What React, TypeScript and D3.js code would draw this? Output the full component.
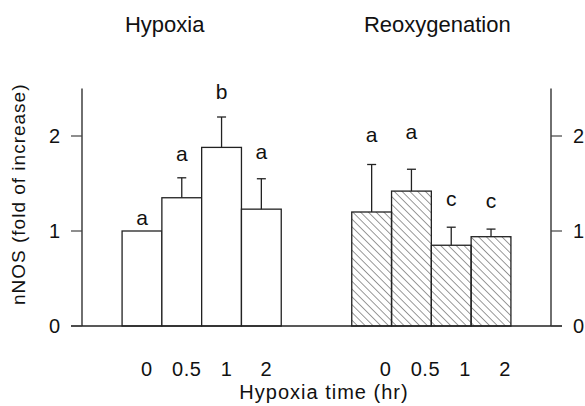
import React from "react";
import * as d3 from "d3";

// values (fold of increase)
const groups = ["Hypoxia", "Reoxygenation"];
const times = ["0", "0.5", "1", "2"];
const hypoxiaMean = [1.0, 1.35, 1.88, 1.23];
const hypoxiaErr = [0, 0.21, 0.32, 0.32];
const reoxMean = [1.2, 1.42, 0.85, 0.94];
const reoxErr = [0.5, 0.23, 0.19, 0.08];
const hypoxiaLetters = ["a", "a", "b", "a"];
const reoxLetters = ["a", "a", "c", "c"];
const hypoxiaLetterAt = [1.06, 1.74, 2.39, 1.76];
const reoxLetterAt = [1.94, 1.97, 1.26, 1.24];
const yTicks = [0, 1, 2];

const W = 585;
const H = 406;
const margin = { top: 88.5, right: 34, bottom: 80, left: 82 };
const font = "'Liberation Sans', Arial, Helvetica, sans-serif";

const series = [
  { mean: hypoxiaMean, err: hypoxiaErr, letters: hypoxiaLetters, letterAt: hypoxiaLetterAt, hatched: false, labelShift: 5, titleShift: -37 },
  { mean: reoxMean, err: reoxErr, letters: reoxLetters, letterAt: reoxLetterAt, hatched: true, labelShift: 14, titleShift: 6 },
];

export default function App() {
  const x0 = margin.left;
  const x1 = W - margin.right;
  const yBase = H - margin.bottom;

  const y = d3.scaleLinear().domain([0, 2.5]).range([yBase, margin.top]);

  const outer = d3
    .scaleBand()
    .domain(groups)
    .range([x0, x1])
    .paddingInner(0.307)
    .paddingOuter(0.1745);

  const inner = d3.scaleBand().domain(times).range([0, outer.bandwidth()]).padding(0);
  const bw = inner.bandwidth();
  const cap = 4.5;

  return (
    <svg width={W} height={H} style={{ position: "absolute", left: 0, top: 0, background: "#fff" }}>
      <defs>
        <pattern id="hatch" width={5.5} height={5.5} patternUnits="userSpaceOnUse" patternTransform="rotate(-45)">
          <line x1={0} y1={0} x2={0} y2={5.5} stroke="#333" strokeWidth={1} />
        </pattern>
      </defs>

      {/* group titles */}
      {groups.map((g, gi) => (
        <text
          key={g}
          x={outer(g)! + outer.bandwidth() / 2 + series[gi].titleShift}
          y={32}
          textAnchor="middle"
          fontFamily={font}
          fontSize={22}
          fill="#111"
        >
          {g}
        </text>
      ))}

      {/* bars */}
      {series.map((s, gi) => {
        const gx = outer(groups[gi])!;
        return (
          <g key={gi}>
            {times.map((t, i) => {
              const bx = gx + inner(t)!;
              const cx = bx + bw / 2;
              const top = y(s.mean[i]);
              const errTop = y(s.mean[i] + s.err[i]);
              return (
                <g key={t}>
                  <rect
                    x={bx}
                    y={top}
                    width={bw}
                    height={yBase - top}
                    fill={s.hatched ? "url(#hatch)" : "#fff"}
                    stroke="#222"
                    strokeWidth={1.3}
                  />
                  {s.err[i] > 0 && (
                    <g stroke="#222" strokeWidth={1.3}>
                      <line x1={cx} x2={cx} y1={top} y2={errTop} />
                      <line x1={cx - cap} x2={cx + cap} y1={errTop} y2={errTop} />
                    </g>
                  )}
                  <text
                    x={cx}
                    y={y(s.letterAt[i])}
                    textAnchor="middle"
                    fontFamily={font}
                    fontSize={21}
                    fill="#111"
                  >
                    {s.letters[i]}
                  </text>
                  <text
                    x={cx + s.labelShift}
                    y={376}
                    textAnchor="middle"
                    fontFamily={font}
                    fontSize={20}
                    letterSpacing={0.6}
                    fill="#111"
                  >
                    {t}
                  </text>
                </g>
              );
            })}
          </g>
        );
      })}

      {/* baseline */}
      <line x1={x0 - 11} x2={x1 + 11} y1={yBase} y2={yBase} stroke="#222" strokeWidth={1.3} />

      {/* left axis */}
      <line x1={x0} x2={x0} y1={margin.top} y2={yBase} stroke="#222" strokeWidth={1.3} />
      {yTicks.map((v) => (
        <g key={"l" + v}>
          <line x1={x0 - 11} x2={x0} y1={y(v)} y2={y(v)} stroke="#444" strokeWidth={1.2} />
          <text x={x0 - 22} y={y(v)} dy="0.36em" textAnchor="end" fontFamily={font} fontSize={20} fill="#111">
            {v}
          </text>
        </g>
      ))}

      {/* right axis */}
      <line x1={x1} x2={x1} y1={margin.top} y2={yBase} stroke="#222" strokeWidth={1.3} />
      {yTicks.map((v) => (
        <g key={"r" + v}>
          <line x1={x1} x2={x1 + 11} y1={y(v)} y2={y(v)} stroke="#444" strokeWidth={1.2} />
          <text x={x1 + 22} y={y(v)} dy="0.36em" textAnchor="start" fontFamily={font} fontSize={20} fill="#111">
            {v}
          </text>
        </g>
      ))}

      {/* axis titles */}
      <text
        x={324}
        y={399}
        textAnchor="middle"
        fontFamily={font}
        fontSize={20}
        letterSpacing={1}
        fill="#111"
      >
        Hypoxia time (hr)
      </text>
      <text
        transform={`translate(25, ${(margin.top + yBase) / 2 - 13}) rotate(-90)`}
        textAnchor="middle"
        fontFamily={font}
        fontSize={19}
        letterSpacing={1}
        fill="#111"
      >
        nNOS (fold of increase)
      </text>
    </svg>
  );
}
